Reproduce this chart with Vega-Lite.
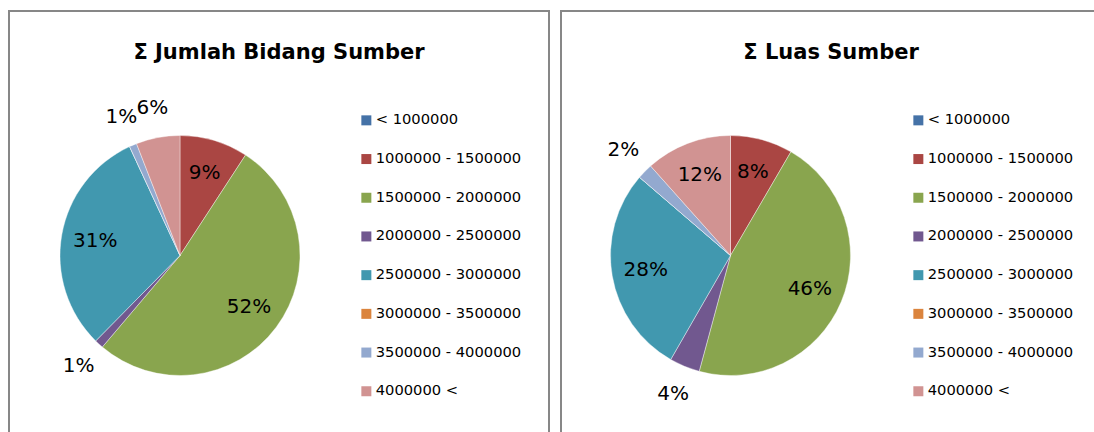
{
  "$schema": "https://vega.github.io/schema/vega-lite/v6.json",
  "background": "white",
  "padding": {"left": 8, "top": 10, "right": 0, "bottom": 0},
  "spacing": 10,
  "config": {
    "view": {"stroke": "#878787", "strokeWidth": 2},
    "font": "DejaVu Sans"
  },
  "resolve": {"scale": {"color": "independent", "theta": "independent"}},
  "data": {
    "values": [
      {"chart": "A", "k": 0, "cls": "< 1000000", "share": 0},
      {"chart": "A", "k": 1, "cls": "1000000 - 1500000", "share": 0.092},
      {"chart": "A", "k": 2, "cls": "1500000 - 2000000", "share": 0.520},
      {"chart": "A", "k": 3, "cls": "2000000 - 2500000", "share": 0.012},
      {"chart": "A", "k": 4, "cls": "2500000 - 3000000", "share": 0.307},
      {"chart": "A", "k": 5, "cls": "3000000 - 3500000", "share": 0},
      {"chart": "A", "k": 6, "cls": "3500000 - 4000000", "share": 0.010},
      {"chart": "A", "k": 7, "cls": "4000000 <", "share": 0.059},
      {"chart": "B", "k": 0, "cls": "< 1000000", "share": 0},
      {"chart": "B", "k": 1, "cls": "1000000 - 1500000", "share": 0.084},
      {"chart": "B", "k": 2, "cls": "1500000 - 2000000", "share": 0.458},
      {"chart": "B", "k": 3, "cls": "2000000 - 2500000", "share": 0.041},
      {"chart": "B", "k": 4, "cls": "2500000 - 3000000", "share": 0.280},
      {"chart": "B", "k": 5, "cls": "3000000 - 3500000", "share": 0},
      {"chart": "B", "k": 6, "cls": "3500000 - 4000000", "share": 0.021},
      {"chart": "B", "k": 7, "cls": "4000000 <", "share": 0.116}
    ]
  },
  "hconcat": [
    {
      "width": 540,
      "height": 440,
      "view": {"stroke": "#878787", "strokeWidth": 2},
      "title": {"text": "Σ Jumlah Bidang Sumber", "font": "DejaVu Sans", "fontSize": 21, "fontWeight": "bold", "color": "black", "anchor": "middle", "frame": "group", "baseline": "alphabetic", "offset": -69},
      "transform": [{"filter": "datum.chart == 'A'"}],
      "encoding": {
        "theta": {"field": "share", "type": "quantitative", "stack": true},
        "order": {"field": "k", "type": "quantitative"}
      },
      "layer": [
        {
          "mark": {"type": "arc", "outerRadius": 120, "x": 171, "y": 244.5, "stroke": "white", "strokeWidth": 0.4},
          "encoding": {
            "color": {
              "field": "cls", "type": "nominal",
              "scale": {
                "domain": ["< 1000000", "1000000 - 1500000", "1500000 - 2000000", "2000000 - 2500000", "2500000 - 3000000", "3000000 - 3500000", "3500000 - 4000000", "4000000 <"],
                "range": ["#4572A7", "#AA4643", "#89A54E", "#71588F", "#4198AF", "#DB843D", "#93A9CF", "#D19392"]
              },
              "legend": {"title": null, "orient": "none", "legendX": 350, "legendY": 102, "symbolType": "square", "symbolSize": 100, "symbolStrokeWidth": 0, "labelFontSize": 14.7, "labelFont": "DejaVu Sans", "labelColor": "black", "rowPadding": 22.7, "labelOffset": 2}
            }
          }
        },
        {
          "mark": {"type": "text", "radius": 86, "x": 171, "y": 244.5, "fontSize": 20, "font": "DejaVu Sans", "color": "black", "align": "center", "baseline": "middle"},
          "encoding": {
            "detail": {"field": "cls"},
            "text": {"condition": {"test": "datum.share >= 0.07", "field": "share", "type": "quantitative", "format": ".0%"}, "value": ""}
          }
        },
        {
          "mark": {"type": "text", "radius": 150, "x": 171, "y": 244.5, "fontSize": 20, "font": "DejaVu Sans", "color": "black", "align": "center", "baseline": "middle"},
          "encoding": {
            "detail": {"field": "cls"},
            "text": {"condition": {"test": "datum.share > 0 && datum.share < 0.07", "field": "share", "type": "quantitative", "format": ".0%"}, "value": ""}
          }
        }
      ]
    },
    {
      "width": 540,
      "height": 440,
      "view": {"stroke": "#878787", "strokeWidth": 2},
      "title": {"text": "Σ Luas Sumber", "font": "DejaVu Sans", "fontSize": 21, "fontWeight": "bold", "color": "black", "anchor": "middle", "frame": "group", "baseline": "alphabetic", "offset": -69},
      "transform": [{"filter": "datum.chart == 'B'"}],
      "encoding": {
        "theta": {"field": "share", "type": "quantitative", "stack": true},
        "order": {"field": "k", "type": "quantitative"}
      },
      "layer": [
        {
          "mark": {"type": "arc", "outerRadius": 120, "x": 169.5, "y": 244.5, "stroke": "white", "strokeWidth": 0.4},
          "encoding": {
            "color": {
              "field": "cls", "type": "nominal",
              "scale": {
                "domain": ["< 1000000", "1000000 - 1500000", "1500000 - 2000000", "2000000 - 2500000", "2500000 - 3000000", "3000000 - 3500000", "3500000 - 4000000", "4000000 <"],
                "range": ["#4572A7", "#AA4643", "#89A54E", "#71588F", "#4198AF", "#DB843D", "#93A9CF", "#D19392"]
              },
              "legend": {"title": null, "orient": "none", "legendX": 350, "legendY": 102, "symbolType": "square", "symbolSize": 100, "symbolStrokeWidth": 0, "labelFontSize": 14.7, "labelFont": "DejaVu Sans", "labelColor": "black", "rowPadding": 22.7, "labelOffset": 2}
            }
          }
        },
        {
          "mark": {"type": "text", "radius": 86, "x": 169.5, "y": 244.5, "fontSize": 20, "font": "DejaVu Sans", "color": "black", "align": "center", "baseline": "middle"},
          "encoding": {
            "detail": {"field": "cls"},
            "text": {"condition": {"test": "datum.share >= 0.07", "field": "share", "type": "quantitative", "format": ".0%"}, "value": ""}
          }
        },
        {
          "mark": {"type": "text", "radius": 150, "x": 169.5, "y": 244.5, "fontSize": 20, "font": "DejaVu Sans", "color": "black", "align": "center", "baseline": "middle"},
          "encoding": {
            "detail": {"field": "cls"},
            "text": {"condition": {"test": "datum.share > 0 && datum.share < 0.07", "field": "share", "type": "quantitative", "format": ".0%"}, "value": ""}
          }
        }
      ]
    }
  ]
}
